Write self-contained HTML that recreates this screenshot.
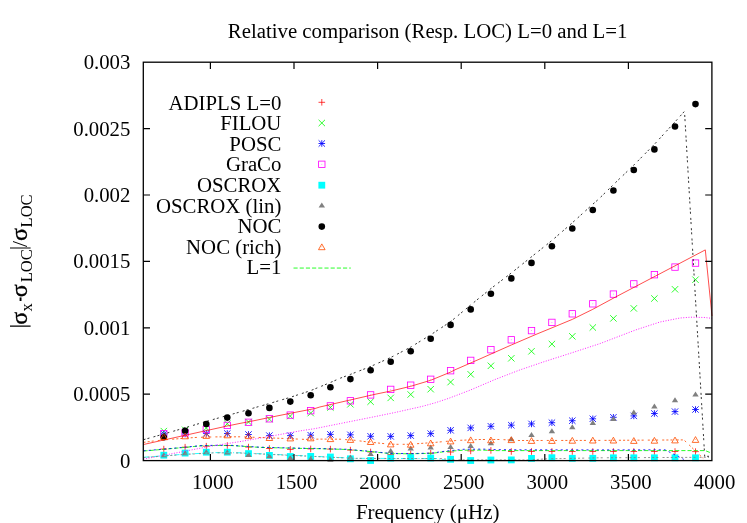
<!DOCTYPE html>
<html><head><meta charset="utf-8"><title>Relative comparison</title>
<style>
html,body{margin:0;padding:0;background:#fff;}
svg{display:block;will-change:transform;opacity:0.999;}
text{font-family:"Liberation Serif",serif;font-size:20.8px;fill:#000;}
</style></head>
<body>
<svg width="747" height="523" viewBox="0 0 747 523">
<rect width="747" height="523" fill="#fff"/>
<text x="427.6" y="37.5" text-anchor="middle" >Relative comparison (Resp. LOC) L=0 and L=1</text>
<text x="427.7" y="519.3" text-anchor="middle" style="font-size:21px">Frequency (μHz)</text>
<g transform="translate(26.8,327.6) rotate(-90)"><path d="M1.5 -16.8V3.8M79.6 -16.8V3.8" stroke="#000" stroke-width="1.1" fill="none"/><text x="2.84" y="0.00" style="font-size:24px;stroke:#000;stroke-width:0.35px">σ</text><text x="16.20" y="5.20" style="font-size:16.6px">x</text><rect x="26.6" y="-7.2" width="3.6" height="1.9" fill="#000"/><text x="30.34" y="0.00" style="font-size:24px;stroke:#000;stroke-width:0.35px">σ</text><text x="45.30" y="5.20" style="font-size:16.6px">LOC</text><text x="80.60" y="0.00" style="font-size:22px">/</text><text x="86.64" y="0.00" style="font-size:24px;stroke:#000;stroke-width:0.35px">σ</text><text x="100.10" y="5.20" style="font-size:16.6px">LOC</text></g>
<text x="281.4" y="109.50" text-anchor="end">ADIPLS L=0</text>
<text x="281.4" y="130.10" text-anchor="end">FILOU</text>
<text x="281.4" y="150.70" text-anchor="end">POSC</text>
<text x="281.4" y="171.30" text-anchor="end">GraCo</text>
<text x="281.4" y="191.90" text-anchor="end">OSCROX</text>
<text x="281.4" y="212.50" text-anchor="end">OSCROX (lin)</text>
<text x="281.4" y="233.10" text-anchor="end">NOC</text>
<text x="281.4" y="253.70" text-anchor="end">NOC (rich)</text>
<text x="281.4" y="274.30" text-anchor="end">L=1</text>
<path d="M160.50 449.10H167.10M163.80 445.80V452.40" stroke="#ff0000" stroke-width="0.76" fill="none"/>
<path d="M181.80 447.20H188.40M185.10 443.90V450.50" stroke="#ff0000" stroke-width="0.76" fill="none"/>
<path d="M203.00 446.20H209.60M206.30 442.90V449.50" stroke="#ff0000" stroke-width="0.76" fill="none"/>
<path d="M224.00 445.50H230.60M227.30 442.20V448.80" stroke="#ff0000" stroke-width="0.76" fill="none"/>
<path d="M245.20 447.10H251.80M248.50 443.80V450.40" stroke="#ff0000" stroke-width="0.76" fill="none"/>
<path d="M266.10 448.50H272.70M269.40 445.20V451.80" stroke="#ff0000" stroke-width="0.76" fill="none"/>
<path d="M287.00 449.40H293.60M290.30 446.10V452.70" stroke="#ff0000" stroke-width="0.76" fill="none"/>
<path d="M307.40 448.90H314.00M310.70 445.60V452.20" stroke="#ff0000" stroke-width="0.76" fill="none"/>
<path d="M327.10 449.10H333.70M330.40 445.80V452.40" stroke="#ff0000" stroke-width="0.76" fill="none"/>
<path d="M347.10 450.10H353.70M350.40 446.80V453.40" stroke="#ff0000" stroke-width="0.76" fill="none"/>
<path d="M367.30 452.00H373.90M370.60 448.70V455.30" stroke="#ff0000" stroke-width="0.76" fill="none"/>
<path d="M387.40 454.50H394.00M390.70 451.20V457.80" stroke="#ff0000" stroke-width="0.76" fill="none"/>
<path d="M407.40 453.80H414.00M410.70 450.50V457.10" stroke="#ff0000" stroke-width="0.76" fill="none"/>
<path d="M427.40 453.20H434.00M430.70 449.90V456.50" stroke="#ff0000" stroke-width="0.76" fill="none"/>
<path d="M447.30 452.00H453.90M450.60 448.70V455.30" stroke="#ff0000" stroke-width="0.76" fill="none"/>
<path d="M467.40 450.90H474.00M470.70 447.60V454.20" stroke="#ff0000" stroke-width="0.76" fill="none"/>
<path d="M487.60 450.40H494.20M490.90 447.10V453.70" stroke="#ff0000" stroke-width="0.76" fill="none"/>
<path d="M508.00 451.50H514.60M511.30 448.20V454.80" stroke="#ff0000" stroke-width="0.76" fill="none"/>
<path d="M528.20 451.50H534.80M531.50 448.20V454.80" stroke="#ff0000" stroke-width="0.76" fill="none"/>
<path d="M548.60 451.50H555.20M551.90 448.20V454.80" stroke="#ff0000" stroke-width="0.76" fill="none"/>
<path d="M569.00 451.50H575.60M572.30 448.20V454.80" stroke="#ff0000" stroke-width="0.76" fill="none"/>
<path d="M589.50 451.50H596.10M592.80 448.20V454.80" stroke="#ff0000" stroke-width="0.76" fill="none"/>
<path d="M610.10 451.50H616.70M613.40 448.20V454.80" stroke="#ff0000" stroke-width="0.76" fill="none"/>
<path d="M630.50 451.50H637.10M633.80 448.20V454.80" stroke="#ff0000" stroke-width="0.76" fill="none"/>
<path d="M651.10 451.50H657.70M654.40 448.20V454.80" stroke="#ff0000" stroke-width="0.76" fill="none"/>
<path d="M671.70 451.50H678.30M675.00 448.20V454.80" stroke="#ff0000" stroke-width="0.76" fill="none"/>
<path d="M692.20 451.60H698.80M695.50 448.30V454.90" stroke="#ff0000" stroke-width="0.76" fill="none"/>
<path d="M160.60 427.90L167.00 434.30M160.60 434.30L167.00 427.90" stroke="#00ff00" stroke-width="0.82" fill="none"/>
<path d="M181.90 426.60L188.30 433.00M181.90 433.00L188.30 426.60" stroke="#00ff00" stroke-width="0.82" fill="none"/>
<path d="M203.10 424.80L209.50 431.20M203.10 431.20L209.50 424.80" stroke="#00ff00" stroke-width="0.82" fill="none"/>
<path d="M224.10 420.50L230.50 426.90M224.10 426.90L230.50 420.50" stroke="#00ff00" stroke-width="0.82" fill="none"/>
<path d="M245.30 418.80L251.70 425.20M245.30 425.20L251.70 418.80" stroke="#00ff00" stroke-width="0.82" fill="none"/>
<path d="M266.20 415.90L272.60 422.30M266.20 422.30L272.60 415.90" stroke="#00ff00" stroke-width="0.82" fill="none"/>
<path d="M287.10 412.90L293.50 419.30M287.10 419.30L293.50 412.90" stroke="#00ff00" stroke-width="0.82" fill="none"/>
<path d="M307.50 409.90L313.90 416.30M307.50 416.30L313.90 409.90" stroke="#00ff00" stroke-width="0.82" fill="none"/>
<path d="M327.20 404.30L333.60 410.70M327.20 410.70L333.60 404.30" stroke="#00ff00" stroke-width="0.82" fill="none"/>
<path d="M347.20 401.10L353.60 407.50M347.20 407.50L353.60 401.10" stroke="#00ff00" stroke-width="0.82" fill="none"/>
<path d="M367.40 398.50L373.80 404.90M367.40 404.90L373.80 398.50" stroke="#00ff00" stroke-width="0.82" fill="none"/>
<path d="M387.50 394.70L393.90 401.10M387.50 401.10L393.90 394.70" stroke="#00ff00" stroke-width="0.82" fill="none"/>
<path d="M407.50 391.30L413.90 397.70M407.50 397.70L413.90 391.30" stroke="#00ff00" stroke-width="0.82" fill="none"/>
<path d="M427.50 386.00L433.90 392.40M427.50 392.40L433.90 386.00" stroke="#00ff00" stroke-width="0.82" fill="none"/>
<path d="M447.40 378.90L453.80 385.30M447.40 385.30L453.80 378.90" stroke="#00ff00" stroke-width="0.82" fill="none"/>
<path d="M467.50 371.10L473.90 377.50M467.50 377.50L473.90 371.10" stroke="#00ff00" stroke-width="0.82" fill="none"/>
<path d="M487.70 362.60L494.10 369.00M487.70 369.00L494.10 362.60" stroke="#00ff00" stroke-width="0.82" fill="none"/>
<path d="M508.10 355.10L514.50 361.50M508.10 361.50L514.50 355.10" stroke="#00ff00" stroke-width="0.82" fill="none"/>
<path d="M528.30 348.10L534.70 354.50M528.30 354.50L534.70 348.10" stroke="#00ff00" stroke-width="0.82" fill="none"/>
<path d="M548.70 340.80L555.10 347.20M548.70 347.20L555.10 340.80" stroke="#00ff00" stroke-width="0.82" fill="none"/>
<path d="M569.10 333.10L575.50 339.50M569.10 339.50L575.50 333.10" stroke="#00ff00" stroke-width="0.82" fill="none"/>
<path d="M589.60 324.30L596.00 330.70M589.60 330.70L596.00 324.30" stroke="#00ff00" stroke-width="0.82" fill="none"/>
<path d="M610.20 315.20L616.60 321.60M610.20 321.60L616.60 315.20" stroke="#00ff00" stroke-width="0.82" fill="none"/>
<path d="M630.60 305.20L637.00 311.60M630.60 311.60L637.00 305.20" stroke="#00ff00" stroke-width="0.82" fill="none"/>
<path d="M651.20 295.30L657.60 301.70M651.20 301.70L657.60 295.30" stroke="#00ff00" stroke-width="0.82" fill="none"/>
<path d="M671.80 286.10L678.20 292.50M671.80 292.50L678.20 286.10" stroke="#00ff00" stroke-width="0.82" fill="none"/>
<path d="M692.30 276.50L698.70 282.90M692.30 282.90L698.70 276.50" stroke="#00ff00" stroke-width="0.82" fill="none"/>
<path d="M160.50 434.00H167.10M163.80 430.70V437.30" stroke="#0000ff" stroke-width="0.85" fill="none"/><path d="M160.60 430.80L167.00 437.20M160.60 437.20L167.00 430.80" stroke="#0000ff" stroke-width="0.85" fill="none"/>
<path d="M181.80 434.00H188.40M185.10 430.70V437.30" stroke="#0000ff" stroke-width="0.85" fill="none"/><path d="M181.90 430.80L188.30 437.20M181.90 437.20L188.30 430.80" stroke="#0000ff" stroke-width="0.85" fill="none"/>
<path d="M203.00 433.40H209.60M206.30 430.10V436.70" stroke="#0000ff" stroke-width="0.85" fill="none"/><path d="M203.10 430.20L209.50 436.60M203.10 436.60L209.50 430.20" stroke="#0000ff" stroke-width="0.85" fill="none"/>
<path d="M224.00 433.50H230.60M227.30 430.20V436.80" stroke="#0000ff" stroke-width="0.85" fill="none"/><path d="M224.10 430.30L230.50 436.70M224.10 436.70L230.50 430.30" stroke="#0000ff" stroke-width="0.85" fill="none"/>
<path d="M245.20 434.50H251.80M248.50 431.20V437.80" stroke="#0000ff" stroke-width="0.85" fill="none"/><path d="M245.30 431.30L251.70 437.70M245.30 437.70L251.70 431.30" stroke="#0000ff" stroke-width="0.85" fill="none"/>
<path d="M266.10 435.60H272.70M269.40 432.30V438.90" stroke="#0000ff" stroke-width="0.85" fill="none"/><path d="M266.20 432.40L272.60 438.80M266.20 438.80L272.60 432.40" stroke="#0000ff" stroke-width="0.85" fill="none"/>
<path d="M287.00 435.60H293.60M290.30 432.30V438.90" stroke="#0000ff" stroke-width="0.85" fill="none"/><path d="M287.10 432.40L293.50 438.80M287.10 438.80L293.50 432.40" stroke="#0000ff" stroke-width="0.85" fill="none"/>
<path d="M307.40 435.20H314.00M310.70 431.90V438.50" stroke="#0000ff" stroke-width="0.85" fill="none"/><path d="M307.50 432.00L313.90 438.40M307.50 438.40L313.90 432.00" stroke="#0000ff" stroke-width="0.85" fill="none"/>
<path d="M327.10 434.40H333.70M330.40 431.10V437.70" stroke="#0000ff" stroke-width="0.85" fill="none"/><path d="M327.20 431.20L333.60 437.60M327.20 437.60L333.60 431.20" stroke="#0000ff" stroke-width="0.85" fill="none"/>
<path d="M347.10 434.80H353.70M350.40 431.50V438.10" stroke="#0000ff" stroke-width="0.85" fill="none"/><path d="M347.20 431.60L353.60 438.00M347.20 438.00L353.60 431.60" stroke="#0000ff" stroke-width="0.85" fill="none"/>
<path d="M367.30 436.30H373.90M370.60 433.00V439.60" stroke="#0000ff" stroke-width="0.85" fill="none"/><path d="M367.40 433.10L373.80 439.50M367.40 439.50L373.80 433.10" stroke="#0000ff" stroke-width="0.85" fill="none"/>
<path d="M387.40 436.40H394.00M390.70 433.10V439.70" stroke="#0000ff" stroke-width="0.85" fill="none"/><path d="M387.50 433.20L393.90 439.60M387.50 439.60L393.90 433.20" stroke="#0000ff" stroke-width="0.85" fill="none"/>
<path d="M407.40 435.60H414.00M410.70 432.30V438.90" stroke="#0000ff" stroke-width="0.85" fill="none"/><path d="M407.50 432.40L413.90 438.80M407.50 438.80L413.90 432.40" stroke="#0000ff" stroke-width="0.85" fill="none"/>
<path d="M427.40 433.60H434.00M430.70 430.30V436.90" stroke="#0000ff" stroke-width="0.85" fill="none"/><path d="M427.50 430.40L433.90 436.80M427.50 436.80L433.90 430.40" stroke="#0000ff" stroke-width="0.85" fill="none"/>
<path d="M447.30 430.30H453.90M450.60 427.00V433.60" stroke="#0000ff" stroke-width="0.85" fill="none"/><path d="M447.40 427.10L453.80 433.50M447.40 433.50L453.80 427.10" stroke="#0000ff" stroke-width="0.85" fill="none"/>
<path d="M467.40 427.90H474.00M470.70 424.60V431.20" stroke="#0000ff" stroke-width="0.85" fill="none"/><path d="M467.50 424.70L473.90 431.10M467.50 431.10L473.90 424.70" stroke="#0000ff" stroke-width="0.85" fill="none"/>
<path d="M487.60 426.30H494.20M490.90 423.00V429.60" stroke="#0000ff" stroke-width="0.85" fill="none"/><path d="M487.70 423.10L494.10 429.50M487.70 429.50L494.10 423.10" stroke="#0000ff" stroke-width="0.85" fill="none"/>
<path d="M508.00 425.20H514.60M511.30 421.90V428.50" stroke="#0000ff" stroke-width="0.85" fill="none"/><path d="M508.10 422.00L514.50 428.40M508.10 428.40L514.50 422.00" stroke="#0000ff" stroke-width="0.85" fill="none"/>
<path d="M528.20 423.90H534.80M531.50 420.60V427.20" stroke="#0000ff" stroke-width="0.85" fill="none"/><path d="M528.30 420.70L534.70 427.10M528.30 427.10L534.70 420.70" stroke="#0000ff" stroke-width="0.85" fill="none"/>
<path d="M548.60 422.70H555.20M551.90 419.40V426.00" stroke="#0000ff" stroke-width="0.85" fill="none"/><path d="M548.70 419.50L555.10 425.90M548.70 425.90L555.10 419.50" stroke="#0000ff" stroke-width="0.85" fill="none"/>
<path d="M569.00 420.70H575.60M572.30 417.40V424.00" stroke="#0000ff" stroke-width="0.85" fill="none"/><path d="M569.10 417.50L575.50 423.90M569.10 423.90L575.50 417.50" stroke="#0000ff" stroke-width="0.85" fill="none"/>
<path d="M589.50 418.80H596.10M592.80 415.50V422.10" stroke="#0000ff" stroke-width="0.85" fill="none"/><path d="M589.60 415.60L596.00 422.00M589.60 422.00L596.00 415.60" stroke="#0000ff" stroke-width="0.85" fill="none"/>
<path d="M610.10 417.30H616.70M613.40 414.00V420.60" stroke="#0000ff" stroke-width="0.85" fill="none"/><path d="M610.20 414.10L616.60 420.50M610.20 420.50L616.60 414.10" stroke="#0000ff" stroke-width="0.85" fill="none"/>
<path d="M630.50 415.90H637.10M633.80 412.60V419.20" stroke="#0000ff" stroke-width="0.85" fill="none"/><path d="M630.60 412.70L637.00 419.10M630.60 419.10L637.00 412.70" stroke="#0000ff" stroke-width="0.85" fill="none"/>
<path d="M651.10 413.50H657.70M654.40 410.20V416.80" stroke="#0000ff" stroke-width="0.85" fill="none"/><path d="M651.20 410.30L657.60 416.70M651.20 416.70L657.60 410.30" stroke="#0000ff" stroke-width="0.85" fill="none"/>
<path d="M671.70 411.60H678.30M675.00 408.30V414.90" stroke="#0000ff" stroke-width="0.85" fill="none"/><path d="M671.80 408.40L678.20 414.80M671.80 414.80L678.20 408.40" stroke="#0000ff" stroke-width="0.85" fill="none"/>
<path d="M692.20 409.50H698.80M695.50 406.20V412.80" stroke="#0000ff" stroke-width="0.85" fill="none"/><path d="M692.30 406.30L698.70 412.70M692.30 412.70L698.70 406.30" stroke="#0000ff" stroke-width="0.85" fill="none"/>
<rect x="160.60" y="430.60" width="6.40" height="6.40" stroke="#ff00ff" stroke-width="0.82" fill="none"/><rect x="163.40" y="433.40" width="0.8" height="0.8" fill="#ff00ff" opacity="0.6"/>
<rect x="181.90" y="429.60" width="6.40" height="6.40" stroke="#ff00ff" stroke-width="0.82" fill="none"/><rect x="184.70" y="432.40" width="0.8" height="0.8" fill="#ff00ff" opacity="0.6"/>
<rect x="203.10" y="426.30" width="6.40" height="6.40" stroke="#ff00ff" stroke-width="0.82" fill="none"/><rect x="205.90" y="429.10" width="0.8" height="0.8" fill="#ff00ff" opacity="0.6"/>
<rect x="224.10" y="422.20" width="6.40" height="6.40" stroke="#ff00ff" stroke-width="0.82" fill="none"/><rect x="226.90" y="425.00" width="0.8" height="0.8" fill="#ff00ff" opacity="0.6"/>
<rect x="245.30" y="419.10" width="6.40" height="6.40" stroke="#ff00ff" stroke-width="0.82" fill="none"/><rect x="248.10" y="421.90" width="0.8" height="0.8" fill="#ff00ff" opacity="0.6"/>
<rect x="266.20" y="415.60" width="6.40" height="6.40" stroke="#ff00ff" stroke-width="0.82" fill="none"/><rect x="269.00" y="418.40" width="0.8" height="0.8" fill="#ff00ff" opacity="0.6"/>
<rect x="287.10" y="411.90" width="6.40" height="6.40" stroke="#ff00ff" stroke-width="0.82" fill="none"/><rect x="289.90" y="414.70" width="0.8" height="0.8" fill="#ff00ff" opacity="0.6"/>
<rect x="307.50" y="407.50" width="6.40" height="6.40" stroke="#ff00ff" stroke-width="0.82" fill="none"/><rect x="310.30" y="410.30" width="0.8" height="0.8" fill="#ff00ff" opacity="0.6"/>
<rect x="327.20" y="402.70" width="6.40" height="6.40" stroke="#ff00ff" stroke-width="0.82" fill="none"/><rect x="330.00" y="405.50" width="0.8" height="0.8" fill="#ff00ff" opacity="0.6"/>
<rect x="347.20" y="397.60" width="6.40" height="6.40" stroke="#ff00ff" stroke-width="0.82" fill="none"/><rect x="350.00" y="400.40" width="0.8" height="0.8" fill="#ff00ff" opacity="0.6"/>
<rect x="367.40" y="391.70" width="6.40" height="6.40" stroke="#ff00ff" stroke-width="0.82" fill="none"/><rect x="370.20" y="394.50" width="0.8" height="0.8" fill="#ff00ff" opacity="0.6"/>
<rect x="387.50" y="386.20" width="6.40" height="6.40" stroke="#ff00ff" stroke-width="0.82" fill="none"/><rect x="390.30" y="389.00" width="0.8" height="0.8" fill="#ff00ff" opacity="0.6"/>
<rect x="407.50" y="382.00" width="6.40" height="6.40" stroke="#ff00ff" stroke-width="0.82" fill="none"/><rect x="410.30" y="384.80" width="0.8" height="0.8" fill="#ff00ff" opacity="0.6"/>
<rect x="427.50" y="376.10" width="6.40" height="6.40" stroke="#ff00ff" stroke-width="0.82" fill="none"/><rect x="430.30" y="378.90" width="0.8" height="0.8" fill="#ff00ff" opacity="0.6"/>
<rect x="447.40" y="367.50" width="6.40" height="6.40" stroke="#ff00ff" stroke-width="0.82" fill="none"/><rect x="450.20" y="370.30" width="0.8" height="0.8" fill="#ff00ff" opacity="0.6"/>
<rect x="467.50" y="357.20" width="6.40" height="6.40" stroke="#ff00ff" stroke-width="0.82" fill="none"/><rect x="470.30" y="360.00" width="0.8" height="0.8" fill="#ff00ff" opacity="0.6"/>
<rect x="487.70" y="346.50" width="6.40" height="6.40" stroke="#ff00ff" stroke-width="0.82" fill="none"/><rect x="490.50" y="349.30" width="0.8" height="0.8" fill="#ff00ff" opacity="0.6"/>
<rect x="508.10" y="336.60" width="6.40" height="6.40" stroke="#ff00ff" stroke-width="0.82" fill="none"/><rect x="510.90" y="339.40" width="0.8" height="0.8" fill="#ff00ff" opacity="0.6"/>
<rect x="528.30" y="327.40" width="6.40" height="6.40" stroke="#ff00ff" stroke-width="0.82" fill="none"/><rect x="531.10" y="330.20" width="0.8" height="0.8" fill="#ff00ff" opacity="0.6"/>
<rect x="548.70" y="319.20" width="6.40" height="6.40" stroke="#ff00ff" stroke-width="0.82" fill="none"/><rect x="551.50" y="322.00" width="0.8" height="0.8" fill="#ff00ff" opacity="0.6"/>
<rect x="569.10" y="310.60" width="6.40" height="6.40" stroke="#ff00ff" stroke-width="0.82" fill="none"/><rect x="571.90" y="313.40" width="0.8" height="0.8" fill="#ff00ff" opacity="0.6"/>
<rect x="589.60" y="300.60" width="6.40" height="6.40" stroke="#ff00ff" stroke-width="0.82" fill="none"/><rect x="592.40" y="303.40" width="0.8" height="0.8" fill="#ff00ff" opacity="0.6"/>
<rect x="610.20" y="290.90" width="6.40" height="6.40" stroke="#ff00ff" stroke-width="0.82" fill="none"/><rect x="613.00" y="293.70" width="0.8" height="0.8" fill="#ff00ff" opacity="0.6"/>
<rect x="630.60" y="280.70" width="6.40" height="6.40" stroke="#ff00ff" stroke-width="0.82" fill="none"/><rect x="633.40" y="283.50" width="0.8" height="0.8" fill="#ff00ff" opacity="0.6"/>
<rect x="651.20" y="271.50" width="6.40" height="6.40" stroke="#ff00ff" stroke-width="0.82" fill="none"/><rect x="654.00" y="274.30" width="0.8" height="0.8" fill="#ff00ff" opacity="0.6"/>
<rect x="671.80" y="263.90" width="6.40" height="6.40" stroke="#ff00ff" stroke-width="0.82" fill="none"/><rect x="674.60" y="266.70" width="0.8" height="0.8" fill="#ff00ff" opacity="0.6"/>
<rect x="692.30" y="259.90" width="6.40" height="6.40" stroke="#ff00ff" stroke-width="0.82" fill="none"/><rect x="695.10" y="262.70" width="0.8" height="0.8" fill="#ff00ff" opacity="0.6"/>
<rect x="160.40" y="451.80" width="6.80" height="6.80" fill="#00ffff"/>
<rect x="181.70" y="449.70" width="6.80" height="6.80" fill="#00ffff"/>
<rect x="202.90" y="448.80" width="6.80" height="6.80" fill="#00ffff"/>
<rect x="223.90" y="448.80" width="6.80" height="6.80" fill="#00ffff"/>
<rect x="245.10" y="450.20" width="6.80" height="6.80" fill="#00ffff"/>
<rect x="266.00" y="452.00" width="6.80" height="6.80" fill="#00ffff"/>
<rect x="286.90" y="453.10" width="6.80" height="6.80" fill="#00ffff"/>
<rect x="307.30" y="453.00" width="6.80" height="6.80" fill="#00ffff"/>
<rect x="327.00" y="453.60" width="6.80" height="6.80" fill="#00ffff"/>
<rect x="347.00" y="455.40" width="6.80" height="6.80" fill="#00ffff"/>
<rect x="367.20" y="457.10" width="6.80" height="6.80" fill="#00ffff"/>
<rect x="387.30" y="454.70" width="6.80" height="6.80" fill="#00ffff"/>
<rect x="407.30" y="454.20" width="6.80" height="6.80" fill="#00ffff"/>
<rect x="427.30" y="454.60" width="6.80" height="6.80" fill="#00ffff"/>
<rect x="447.20" y="455.90" width="6.80" height="6.80" fill="#00ffff"/>
<rect x="467.30" y="457.10" width="6.80" height="6.80" fill="#00ffff"/>
<rect x="487.50" y="456.60" width="6.80" height="6.80" fill="#00ffff"/>
<rect x="507.90" y="456.50" width="6.80" height="6.80" fill="#00ffff"/>
<rect x="528.10" y="455.00" width="6.80" height="6.80" fill="#00ffff"/>
<rect x="548.50" y="454.30" width="6.80" height="6.80" fill="#00ffff"/>
<rect x="568.90" y="454.90" width="6.80" height="6.80" fill="#00ffff"/>
<rect x="589.40" y="454.90" width="6.80" height="6.80" fill="#00ffff"/>
<rect x="610.00" y="454.40" width="6.80" height="6.80" fill="#00ffff"/>
<rect x="630.40" y="454.40" width="6.80" height="6.80" fill="#00ffff"/>
<rect x="651.00" y="454.40" width="6.80" height="6.80" fill="#00ffff"/>
<rect x="671.60" y="454.40" width="6.80" height="6.80" fill="#00ffff"/>
<rect x="692.10" y="454.40" width="6.80" height="6.80" fill="#00ffff"/>
<path d="M163.80 452.30L167.00 457.30H160.60Z" fill="#808080"/>
<path d="M185.10 450.30L188.30 455.30H181.90Z" fill="#808080"/>
<path d="M206.30 449.30L209.50 454.30H203.10Z" fill="#808080"/>
<path d="M227.30 449.40L230.50 454.40H224.10Z" fill="#808080"/>
<path d="M248.50 451.90L251.70 456.90H245.30Z" fill="#808080"/>
<path d="M269.40 453.20L272.60 458.20H266.20Z" fill="#808080"/>
<path d="M290.30 455.10L293.50 460.10H287.10Z" fill="#808080"/>
<path d="M310.70 456.00L313.90 461.00H307.50Z" fill="#808080"/>
<path d="M330.40 456.70L333.60 461.70H327.20Z" fill="#808080"/>
<path d="M350.40 454.40L353.60 459.40H347.20Z" fill="#808080"/>
<path d="M370.60 451.10L373.80 456.10H367.40Z" fill="#808080"/>
<path d="M390.70 447.90L393.90 452.90H387.50Z" fill="#808080"/>
<path d="M410.70 445.50L413.90 450.50H407.50Z" fill="#808080"/>
<path d="M430.70 444.60L433.90 449.60H427.50Z" fill="#808080"/>
<path d="M450.60 443.90L453.80 448.90H447.40Z" fill="#808080"/>
<path d="M470.70 443.10L473.90 448.10H467.50Z" fill="#808080"/>
<path d="M490.90 440.20L494.10 445.20H487.70Z" fill="#808080"/>
<path d="M511.30 436.20L514.50 441.20H508.10Z" fill="#808080"/>
<path d="M531.50 431.90L534.70 436.90H528.30Z" fill="#808080"/>
<path d="M551.90 428.20L555.10 433.20H548.70Z" fill="#808080"/>
<path d="M572.30 424.30L575.50 429.30H569.10Z" fill="#808080"/>
<path d="M592.80 420.10L596.00 425.10H589.60Z" fill="#808080"/>
<path d="M613.40 415.90L616.60 420.90H610.20Z" fill="#808080"/>
<path d="M633.80 409.60L637.00 414.60H630.60Z" fill="#808080"/>
<path d="M654.40 403.50L657.60 408.50H651.20Z" fill="#808080"/>
<path d="M675.00 397.30L678.20 402.30H671.80Z" fill="#808080"/>
<path d="M695.50 391.50L698.70 396.50H692.30Z" fill="#808080"/>
<circle cx="163.80" cy="437.30" r="3.3" fill="#000000"/>
<circle cx="185.10" cy="430.70" r="3.3" fill="#000000"/>
<circle cx="206.30" cy="424.00" r="3.3" fill="#000000"/>
<circle cx="227.30" cy="417.60" r="3.3" fill="#000000"/>
<circle cx="248.50" cy="413.30" r="3.3" fill="#000000"/>
<circle cx="269.40" cy="407.90" r="3.3" fill="#000000"/>
<circle cx="290.30" cy="401.60" r="3.3" fill="#000000"/>
<circle cx="310.70" cy="395.30" r="3.3" fill="#000000"/>
<circle cx="330.40" cy="387.20" r="3.3" fill="#000000"/>
<circle cx="350.40" cy="379.10" r="3.3" fill="#000000"/>
<circle cx="370.60" cy="370.30" r="3.3" fill="#000000"/>
<circle cx="390.70" cy="361.70" r="3.3" fill="#000000"/>
<circle cx="410.70" cy="351.20" r="3.3" fill="#000000"/>
<circle cx="430.70" cy="338.80" r="3.3" fill="#000000"/>
<circle cx="450.60" cy="324.90" r="3.3" fill="#000000"/>
<circle cx="470.70" cy="309.40" r="3.3" fill="#000000"/>
<circle cx="490.90" cy="293.70" r="3.3" fill="#000000"/>
<circle cx="511.30" cy="278.40" r="3.3" fill="#000000"/>
<circle cx="531.50" cy="262.90" r="3.3" fill="#000000"/>
<circle cx="551.90" cy="246.30" r="3.3" fill="#000000"/>
<circle cx="572.30" cy="228.50" r="3.3" fill="#000000"/>
<circle cx="592.80" cy="210.00" r="3.3" fill="#000000"/>
<circle cx="613.40" cy="190.50" r="3.3" fill="#000000"/>
<circle cx="633.80" cy="170.00" r="3.3" fill="#000000"/>
<circle cx="654.40" cy="149.40" r="3.3" fill="#000000"/>
<circle cx="675.00" cy="126.50" r="3.3" fill="#000000"/>
<circle cx="695.50" cy="104.10" r="3.3" fill="#000000"/>
<path d="M163.80 433.60L167.10 439.40H160.50Z" stroke="#ff4d00" stroke-width="0.82" fill="none"/><rect x="163.40" y="436.10" width="0.8" height="0.8" fill="#ff4d00" opacity="0.6"/>
<path d="M185.10 433.00L188.40 438.80H181.80Z" stroke="#ff4d00" stroke-width="0.82" fill="none"/><rect x="184.70" y="435.50" width="0.8" height="0.8" fill="#ff4d00" opacity="0.6"/>
<path d="M206.30 432.60L209.60 438.40H203.00Z" stroke="#ff4d00" stroke-width="0.82" fill="none"/><rect x="205.90" y="435.10" width="0.8" height="0.8" fill="#ff4d00" opacity="0.6"/>
<path d="M227.30 432.00L230.60 437.80H224.00Z" stroke="#ff4d00" stroke-width="0.82" fill="none"/><rect x="226.90" y="434.50" width="0.8" height="0.8" fill="#ff4d00" opacity="0.6"/>
<path d="M248.50 432.80L251.80 438.60H245.20Z" stroke="#ff4d00" stroke-width="0.82" fill="none"/><rect x="248.10" y="435.30" width="0.8" height="0.8" fill="#ff4d00" opacity="0.6"/>
<path d="M269.40 434.70L272.70 440.50H266.10Z" stroke="#ff4d00" stroke-width="0.82" fill="none"/><rect x="269.00" y="437.20" width="0.8" height="0.8" fill="#ff4d00" opacity="0.6"/>
<path d="M290.30 435.10L293.60 440.90H287.00Z" stroke="#ff4d00" stroke-width="0.82" fill="none"/><rect x="289.90" y="437.60" width="0.8" height="0.8" fill="#ff4d00" opacity="0.6"/>
<path d="M310.70 435.00L314.00 440.80H307.40Z" stroke="#ff4d00" stroke-width="0.82" fill="none"/><rect x="310.30" y="437.50" width="0.8" height="0.8" fill="#ff4d00" opacity="0.6"/>
<path d="M330.40 435.80L333.70 441.60H327.10Z" stroke="#ff4d00" stroke-width="0.82" fill="none"/><rect x="330.00" y="438.30" width="0.8" height="0.8" fill="#ff4d00" opacity="0.6"/>
<path d="M350.40 436.60L353.70 442.40H347.10Z" stroke="#ff4d00" stroke-width="0.82" fill="none"/><rect x="350.00" y="439.10" width="0.8" height="0.8" fill="#ff4d00" opacity="0.6"/>
<path d="M370.60 438.70L373.90 444.50H367.30Z" stroke="#ff4d00" stroke-width="0.82" fill="none"/><rect x="370.20" y="441.20" width="0.8" height="0.8" fill="#ff4d00" opacity="0.6"/>
<path d="M390.70 441.10L394.00 446.90H387.40Z" stroke="#ff4d00" stroke-width="0.82" fill="none"/><rect x="390.30" y="443.60" width="0.8" height="0.8" fill="#ff4d00" opacity="0.6"/>
<path d="M410.70 441.40L414.00 447.20H407.40Z" stroke="#ff4d00" stroke-width="0.82" fill="none"/><rect x="410.30" y="443.90" width="0.8" height="0.8" fill="#ff4d00" opacity="0.6"/>
<path d="M430.70 440.00L434.00 445.80H427.40Z" stroke="#ff4d00" stroke-width="0.82" fill="none"/><rect x="430.30" y="442.50" width="0.8" height="0.8" fill="#ff4d00" opacity="0.6"/>
<path d="M450.60 438.10L453.90 443.90H447.30Z" stroke="#ff4d00" stroke-width="0.82" fill="none"/><rect x="450.20" y="440.60" width="0.8" height="0.8" fill="#ff4d00" opacity="0.6"/>
<path d="M470.70 436.90L474.00 442.70H467.40Z" stroke="#ff4d00" stroke-width="0.82" fill="none"/><rect x="470.30" y="439.40" width="0.8" height="0.8" fill="#ff4d00" opacity="0.6"/>
<path d="M490.90 437.00L494.20 442.80H487.60Z" stroke="#ff4d00" stroke-width="0.82" fill="none"/><rect x="490.50" y="439.50" width="0.8" height="0.8" fill="#ff4d00" opacity="0.6"/>
<path d="M511.30 436.80L514.60 442.60H508.00Z" stroke="#ff4d00" stroke-width="0.82" fill="none"/><rect x="510.90" y="439.30" width="0.8" height="0.8" fill="#ff4d00" opacity="0.6"/>
<path d="M531.50 437.60L534.80 443.40H528.20Z" stroke="#ff4d00" stroke-width="0.82" fill="none"/><rect x="531.10" y="440.10" width="0.8" height="0.8" fill="#ff4d00" opacity="0.6"/>
<path d="M551.90 437.60L555.20 443.40H548.60Z" stroke="#ff4d00" stroke-width="0.82" fill="none"/><rect x="551.50" y="440.10" width="0.8" height="0.8" fill="#ff4d00" opacity="0.6"/>
<path d="M572.30 437.40L575.60 443.20H569.00Z" stroke="#ff4d00" stroke-width="0.82" fill="none"/><rect x="571.90" y="439.90" width="0.8" height="0.8" fill="#ff4d00" opacity="0.6"/>
<path d="M592.80 437.20L596.10 443.00H589.50Z" stroke="#ff4d00" stroke-width="0.82" fill="none"/><rect x="592.40" y="439.70" width="0.8" height="0.8" fill="#ff4d00" opacity="0.6"/>
<path d="M613.40 437.20L616.70 443.00H610.10Z" stroke="#ff4d00" stroke-width="0.82" fill="none"/><rect x="613.00" y="439.70" width="0.8" height="0.8" fill="#ff4d00" opacity="0.6"/>
<path d="M633.80 437.60L637.10 443.40H630.50Z" stroke="#ff4d00" stroke-width="0.82" fill="none"/><rect x="633.40" y="440.10" width="0.8" height="0.8" fill="#ff4d00" opacity="0.6"/>
<path d="M654.40 437.40L657.70 443.20H651.10Z" stroke="#ff4d00" stroke-width="0.82" fill="none"/><rect x="654.00" y="439.90" width="0.8" height="0.8" fill="#ff4d00" opacity="0.6"/>
<path d="M675.00 437.10L678.30 442.90H671.70Z" stroke="#ff4d00" stroke-width="0.82" fill="none"/><rect x="674.60" y="439.60" width="0.8" height="0.8" fill="#ff4d00" opacity="0.6"/>
<path d="M695.50 436.60L698.80 442.40H692.20Z" stroke="#ff4d00" stroke-width="0.82" fill="none"/><rect x="695.10" y="439.10" width="0.8" height="0.8" fill="#ff4d00" opacity="0.6"/>
<path d="M143.50 444.50L163.80 440.00L185.10 435.30L206.30 430.60L227.30 426.00L240.00 423.40L255.00 420.50L269.40 417.50L290.30 413.30L315.00 408.50L319.80 407.00L350.10 400.00L375.00 394.30L391.00 391.00L410.70 386.30L430.60 380.30L450.80 372.00L455.00 369.80L480.00 358.90L511.30 345.00L535.00 334.80L552.00 327.80L572.50 319.30L592.80 309.30L615.00 297.30L640.00 284.20L680.00 263.20L705.30 249.90L712.00 316.00" stroke="#ff0000" stroke-width="0.7" fill="none"/>
<path d="M143.50 451.00L150.00 450.50L185.00 447.40L200.00 445.90L215.00 445.50L232.00 445.60L260.00 447.40L300.00 448.40L315.00 448.60L347.00 449.50L372.00 451.70L390.00 453.60L410.00 453.80L432.00 453.30L445.00 451.60L463.00 450.20L483.00 450.10L495.00 450.60L520.00 450.60L600.00 450.60L705.30 450.60L711.20 453.00" stroke="#00ff00" stroke-width="0.85" fill="none" stroke-dasharray="4.13 2.06"/>
<path d="M143.50 450.80L150.00 450.30L185.00 447.20L200.00 445.70L215.00 445.30L232.00 445.40L260.00 447.20L300.00 448.20L315.00 448.40L347.00 449.30L372.00 451.50L390.00 453.40L410.00 453.60L432.00 453.10L445.00 451.20L463.00 449.30L483.00 449.10L495.00 449.60L520.00 449.80L600.00 449.90L665.00 449.80L683.80 459.40" stroke="#0000ff" stroke-width="0.85" fill="none" stroke-dasharray="2.06 3.10"/>
<path d="M143.50 459.20L150.00 457.90L185.00 451.20L210.00 446.30L240.00 441.60L260.00 438.10L300.00 430.90L315.00 428.60L343.00 423.00L355.00 420.60L375.00 416.60L395.00 412.50L408.40 409.50L421.80 406.50L435.20 402.80L448.50 398.40L461.90 393.30L470.00 390.20L495.00 379.50L520.00 369.90L545.00 361.40L570.00 353.40L600.00 343.60L635.50 330.00L660.00 322.00L680.00 318.00L690.90 317.20L705.00 317.50L712.00 318.40" stroke="#ff00ff" stroke-width="0.85" fill="none" stroke-dasharray="1.03 1.55"/>
<path d="M143.50 457.30L185.00 454.20L215.00 452.60L240.00 452.80L300.00 455.60L355.00 458.30L400.00 458.50L437.00 458.50L446.00 460.20" stroke="#00ffff" stroke-width="0.85" fill="none" stroke-dasharray="5.16 2.06 1.03 2.06"/>
<path d="M143.50 457.50L185.00 454.40L215.00 452.80L240.00 453.00L300.00 455.80L355.00 458.40L400.00 458.50L440.00 458.60L455.00 459.90L530.00 460.00L545.00 458.90L600.00 457.80L709.00 457.30" stroke="#808080" stroke-width="0.85" fill="none" stroke-dasharray="2.06 2.06 2.06 2.06 2.06 2.06 2.06 4.13"/>
<path d="M143.50 439.70L163.80 434.00L185.10 427.80L206.30 421.40L227.30 415.50L240.00 412.00L248.50 409.50L269.40 403.50L290.30 397.30L310.70 390.60L330.40 382.50L340.00 378.30L350.40 374.40L370.10 366.70L390.70 357.50L410.60 347.20L430.70 334.80L450.80 321.50L470.70 305.00L480.00 297.40L490.90 288.60L511.30 273.00L531.50 256.80L551.90 240.50L572.30 222.80L592.80 204.20L597.70 200.00L618.20 180.00L633.80 165.10L654.40 144.30L675.00 121.90L684.50 111.30L704.70 456.30L709.00 456.30" stroke="#000000" stroke-width="0.8" fill="none" stroke-dasharray="2.06 2.06 2.06 4.13"/>
<path d="M143.50 442.40L152.00 441.20L165.00 439.80L185.00 438.20L195.00 437.50L215.00 436.90L240.00 436.80L260.00 437.50L280.00 438.30L305.00 439.40L320.00 439.10L340.00 439.20L355.00 440.30L365.00 441.60L375.00 442.70L385.00 443.70L395.00 444.30L407.00 444.30L420.00 443.50L435.00 442.40L450.00 441.00L460.00 440.30L480.00 439.50L500.00 439.50L519.00 440.50L600.00 440.40L683.90 439.90L703.20 458.40" stroke="#ff4d00" stroke-width="0.85" fill="none" stroke-dasharray="2.06 2.06 2.06 2.06 2.06 4.13"/>
<path d="M318.50 102.30H325.10M321.80 99.00V105.60" stroke="#ff0000" stroke-width="0.76" fill="none"/>
<path d="M318.60 119.80L325.00 126.20M318.60 126.20L325.00 119.80" stroke="#00ff00" stroke-width="0.82" fill="none"/>
<path d="M318.50 143.50H325.10M321.80 140.20V146.80" stroke="#0000ff" stroke-width="0.85" fill="none"/><path d="M318.60 140.30L325.00 146.70M318.60 146.70L325.00 140.30" stroke="#0000ff" stroke-width="0.85" fill="none"/>
<rect x="318.60" y="161.10" width="6.40" height="6.40" stroke="#ff00ff" stroke-width="0.82" fill="none"/><rect x="321.40" y="163.90" width="0.8" height="0.8" fill="#ff00ff" opacity="0.6"/>
<rect x="318.40" y="181.80" width="6.80" height="6.80" fill="#00ffff"/>
<path d="M321.80 202.50L325.00 207.50H318.60Z" fill="#808080"/>
<circle cx="321.80" cy="226.60" r="3.3" fill="#000000"/>
<path d="M321.80 243.90L325.10 249.70H318.50Z" stroke="#ff4d00" stroke-width="0.82" fill="none"/><rect x="321.40" y="246.40" width="0.8" height="0.8" fill="#ff4d00" opacity="0.6"/>
<path d="M293.50 268.05L350.80 268.05" stroke="#00ff00" stroke-width="0.85" fill="none" stroke-dasharray="4.13 2.06"/>
<rect x="143.3" y="62.2" width="568.5999999999999" height="398.40000000000003" fill="none" stroke="#000" stroke-width="1.3"/>
<path d="M210.4 460.6v-6.7M210.4 62.2v6.7" stroke="#000" stroke-width="1.2"/>
<text transform="translate(212.9 489.1) scale(0.945 1)" text-anchor="middle" style="font-size:22px">1000</text>
<path d="M294.0 460.6v-6.7M294.0 62.2v6.7" stroke="#000" stroke-width="1.2"/>
<text transform="translate(296.5 489.1) scale(0.945 1)" text-anchor="middle" style="font-size:22px">1500</text>
<path d="M377.6 460.6v-6.7M377.6 62.2v6.7" stroke="#000" stroke-width="1.2"/>
<text transform="translate(380.1 489.1) scale(0.945 1)" text-anchor="middle" style="font-size:22px">2000</text>
<path d="M461.2 460.6v-6.7M461.2 62.2v6.7" stroke="#000" stroke-width="1.2"/>
<text transform="translate(463.7 489.1) scale(0.945 1)" text-anchor="middle" style="font-size:22px">2500</text>
<path d="M544.8 460.6v-6.7M544.8 62.2v6.7" stroke="#000" stroke-width="1.2"/>
<text transform="translate(547.3 489.1) scale(0.945 1)" text-anchor="middle" style="font-size:22px">3000</text>
<path d="M628.4 460.6v-6.7M628.4 62.2v6.7" stroke="#000" stroke-width="1.2"/>
<text transform="translate(630.9 489.1) scale(0.945 1)" text-anchor="middle" style="font-size:22px">3500</text>
<text transform="translate(714.5 489.1) scale(0.945 1)" text-anchor="middle" style="font-size:22px">4000</text>
<text transform="translate(130.4 467.50) scale(0.945 1)" text-anchor="end" style="font-size:22px">0</text>
<path d="M143.3 394.20h6.7M711.9 394.20h-6.7" stroke="#000" stroke-width="1.2"/>
<text transform="translate(130.4 401.10) scale(0.945 1)" text-anchor="end" style="font-size:22px">0.0005</text>
<path d="M143.3 327.80h6.7M711.9 327.80h-6.7" stroke="#000" stroke-width="1.2"/>
<text transform="translate(130.4 334.70) scale(0.945 1)" text-anchor="end" style="font-size:22px">0.001</text>
<path d="M143.3 261.40h6.7M711.9 261.40h-6.7" stroke="#000" stroke-width="1.2"/>
<text transform="translate(130.4 268.30) scale(0.945 1)" text-anchor="end" style="font-size:22px">0.0015</text>
<path d="M143.3 195.00h6.7M711.9 195.00h-6.7" stroke="#000" stroke-width="1.2"/>
<text transform="translate(130.4 201.90) scale(0.945 1)" text-anchor="end" style="font-size:22px">0.002</text>
<path d="M143.3 128.60h6.7M711.9 128.60h-6.7" stroke="#000" stroke-width="1.2"/>
<text transform="translate(130.4 135.50) scale(0.945 1)" text-anchor="end" style="font-size:22px">0.0025</text>
<text transform="translate(130.4 69.10) scale(0.945 1)" text-anchor="end" style="font-size:22px">0.003</text>
</svg>
</body></html>
